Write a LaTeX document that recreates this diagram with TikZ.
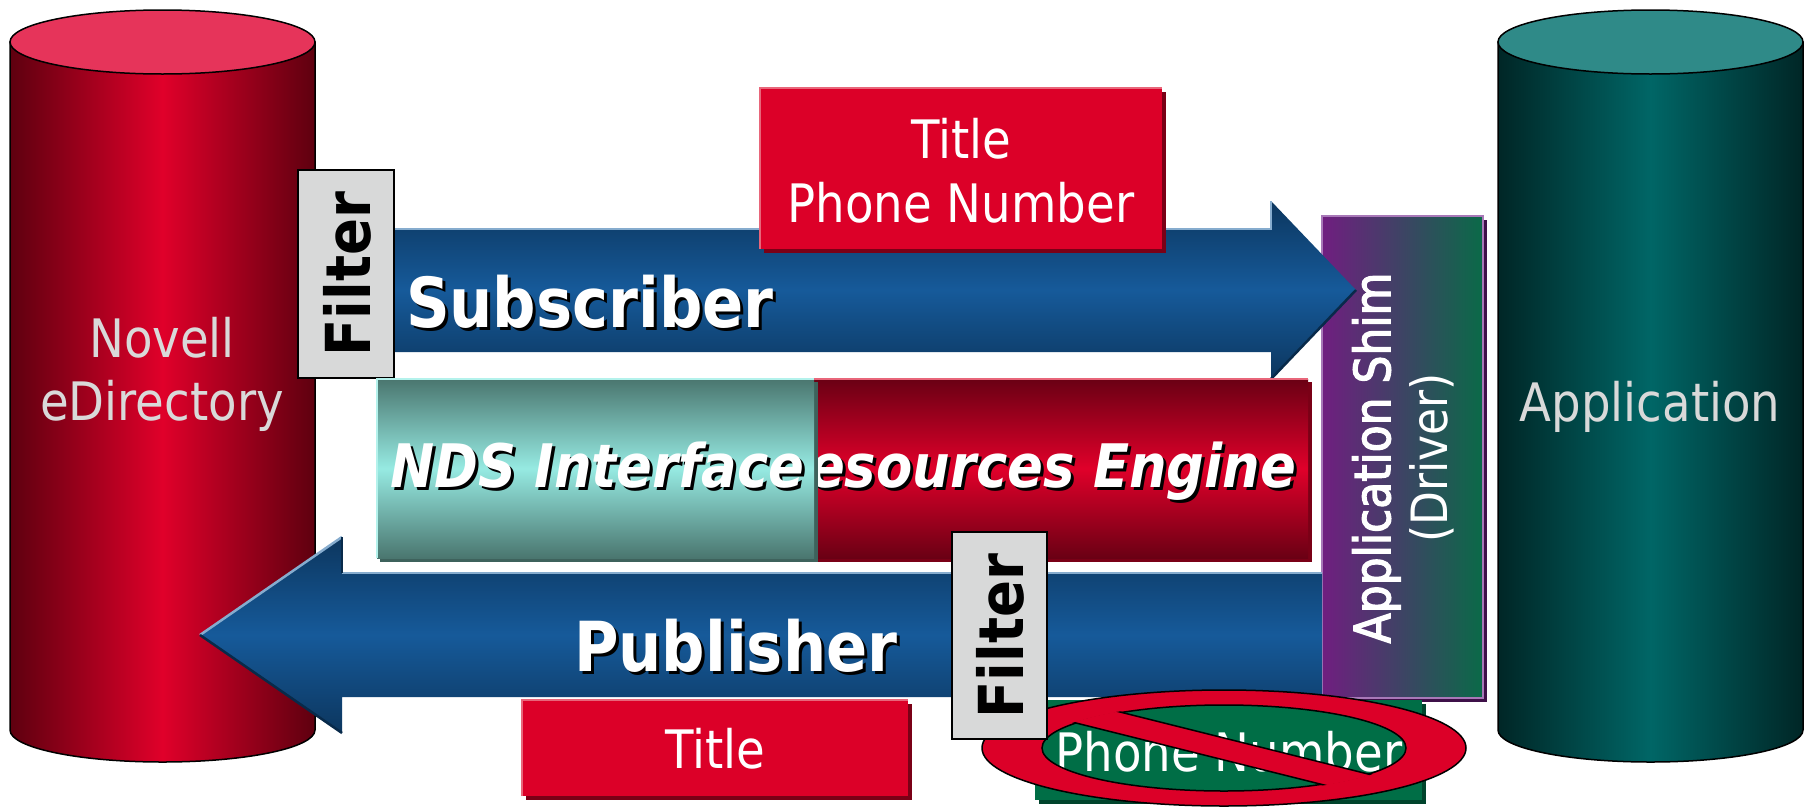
\documentclass[tikz,border=0pt]{standalone}
\usepackage{fontspec}
\newfontfamily\tah{DejaVu Sans}[FakeStretch=0.88]
\newfontfamily\tahsemi{DejaVu Sans}[FakeStretch=0.88, FakeBold=2.5]
\definecolor{cRedEdge}{HTML}{5E000F}
\definecolor{cRedMid}{HTML}{E0002A}
\definecolor{cRedTop}{HTML}{E6345A}
\definecolor{cTealEdge}{HTML}{002626}
\definecolor{cTealMid}{HTML}{006666}
\definecolor{cTealTop}{HTML}{2F8A88}
\definecolor{cArrDark}{HTML}{0C365E}
\definecolor{cArrMid}{HTML}{165A9A}
\definecolor{cArrHi}{HTML}{86ACCE}
\definecolor{cArrSh}{HTML}{082A4A}
\definecolor{cBoxRed}{HTML}{DC0028}
\definecolor{cBoxRedHi}{HTML}{E8667A}
\definecolor{cBoxRedSh}{HTML}{7A0016}
\definecolor{cNdsEdge}{HTML}{4A766F}
\definecolor{cNdsMid}{HTML}{96EAE2}
\definecolor{cNdsHi}{HTML}{B4F2EC}
\definecolor{cNdsSh}{HTML}{3E625C}
\definecolor{cResEdge}{HTML}{6A0014}
\definecolor{cResMid}{HTML}{E0002A}
\definecolor{cShimL}{HTML}{701E80}
\definecolor{cShimR}{HTML}{0A6A48}
\definecolor{cShimHi}{HTML}{A878B8}
\definecolor{cShimSh}{HTML}{3E1048}
\definecolor{cGreen}{HTML}{006E46}
\definecolor{cGreenSh}{HTML}{00442C}
\definecolor{cFilter}{HTML}{D8D9D9}
\definecolor{cGrayTxt}{HTML}{D9D9D9}
\tikzset{
  txt/.style={inner sep=0pt, outer sep=0pt},
  regtxt/.style={txt, font=\tah\fontsize{53}{60}\selectfont},
  bigtxt/.style={txt, font=\tah\bfseries\fontsize{69}{69}\selectfont},
  boxtxt/.style={txt, font=\tah\bfseries\itshape\fontsize{60}{60}\selectfont},
  filtertxt/.style={txt, rotate=90, font=\tah\bfseries\fontsize{62}{62}\selectfont},
  filterbox/.style={fill=cFilter, draw=black, line width=1.5pt},
  cylred/.style={draw=black, line width=1.5pt, left color=cRedEdge, right color=cRedEdge, middle color=cRedMid},
  cylteal/.style={draw=black, line width=1.5pt, left color=cTealEdge, right color=cTealEdge, middle color=cTealMid},
  arrowbody/.style={top color=cArrDark, bottom color=cArrDark, middle color=cArrMid},
  arrowhi/.style={draw=cArrHi, line width=2.5pt},
  arrowsh/.style={draw=cArrSh, line width=2.5pt},
  redbox/.style={fill=cBoxRed},
  redsh/.style={fill=cBoxRedSh},
  redhi/.style={draw=cBoxRedHi, line width=2.5pt},
}
\begin{document}
\begin{tikzpicture}[x=1pt,y=-1pt]
\fill[white] (0,0) rectangle (1810,809);
\useasboundingbox (0,0) rectangle (1810,809);

% ---------- left cylinder
\path[cylred] (10,42) -- (10,730) arc[start angle=180, end angle=0, x radius=152.5, y radius=32] -- (315,42) -- cycle;
\draw[fill=cRedTop, line width=1.5pt] (162.5,42) ellipse[x radius=152.5, y radius=32];
\node[regtxt, text=cGrayTxt, anchor=base] (nov1) at (162,357) {Novell};
\node[regtxt, text=cGrayTxt, anchor=base] (nov2) at (162,420) {eDirectory};

% ---------- right cylinder
\path[cylteal] (1498,42) -- (1498,730) arc[start angle=180, end angle=0, x radius=152.5, y radius=32] -- (1803,42) -- cycle;
\draw[fill=cTealTop, line width=1.5pt] (1650.5,42) ellipse[x radius=152.5, y radius=32];
\node[regtxt, text=cGrayTxt, anchor=base] (app) at (1650,421) {Application};

% ---------- application shim
\fill[cShimSh] (1326,220) rectangle (1487,702);
\path[left color=cShimL, right color=cShimR, draw=cShimHi, line width=1.5pt] (1322,216) rectangle (1483,698);
\node[txt, rotate=90, align=center, text=white, font=\tah\fontsize{50}{57}\selectfont] (shim) at (1403,458)
  {{\tahsemi\fontsize{50}{57}\selectfont Application Shim}\\(Driver)};

% ---------- subscriber arrow
\path[arrowbody] (390,229) -- (1271,229) -- (1271,201) -- (1356,290) -- (1271,379) -- (1271,352) -- (390,352) -- cycle;
\draw[arrowhi] (390,229) -- (1271,229) -- (1271,201);
\draw[arrowsh] (1356,290) -- (1271,379);
\node[bigtxt, text=black, anchor=base west] (subsh) at (409,330) {Subscriber};
\node[bigtxt, text=white, anchor=base west] (sub) at (406,327) {Subscriber};

% ---------- filter 1
\path[filterbox] (298,170) rectangle (394,378);
\node[filtertxt] (f1) at (347,274) {Filter};

% ---------- title / phone box (top)
\path[redsh] (764,92) rectangle (1166,253);
\path[redbox] (760,88) rectangle (1162,249);
\draw[redhi] (760,249) -- (760,88) -- (1162,88);
\node[regtxt, text=white, anchor=base] (t1) at (961,158) {Title};
\node[regtxt, text=white, anchor=base] (t2) at (961,222) {Phone Number};

% ---------- resources engine box
\fill[cBoxRedSh] (817,382) rectangle (1312,562);
\path[top color=cResEdge, bottom color=cResEdge, middle color=cResMid] (814,379) rectangle (1308,558);
\draw[redhi] (814,379) -- (1308,379);
\begin{scope}
\clip (814,379) rectangle (1308,558);
\node[boxtxt, text=black, anchor=base west] (ressh) at (812,490) {esources Engine};
\node[boxtxt, text=white, anchor=base west] (res) at (809,487) {esources Engine};
\end{scope}

% ---------- NDS interface box
\fill[cNdsSh] (380,382) rectangle (818,562);
\path[top color=cNdsEdge, bottom color=cNdsEdge, middle color=cNdsMid] (377,379) rectangle (814,558);
\draw[draw=cNdsHi, line width=2.5pt] (377,558) -- (377,379) -- (814,379);
\node[boxtxt, text=black, anchor=base west] (ndssh) at (393,490) {NDS Interface};
\node[boxtxt, text=white, anchor=base west] (nds) at (390,487) {NDS Interface};

% ---------- publisher arrow
\path[arrowbody] (1322,573) -- (342,573) -- (342,537) -- (200,635) -- (342,733) -- (342,697) -- (1322,697) -- cycle;
\draw[arrowhi] (200,635) -- (342,537);
\draw[arrowhi] (342,573) -- (1322,573);
\draw[arrowsh] (342,537) -- (342,573);
\draw[arrowsh] (200,635) -- (342,733);
\node[bigtxt, text=black, anchor=base west] (pubsh) at (577,674) {Publisher};
\node[bigtxt, text=white, anchor=base west] (pub) at (574,671) {Publisher};

% ---------- bottom title box
\path[redsh] (526,704) rectangle (912,800);
\path[redbox] (522,700) rectangle (908,796);
\draw[redhi] (522,796) -- (522,700) -- (908,700);
\node[regtxt, text=white, anchor=base] (bt) at (715,768) {Title};

% ---------- green phone number box
\fill[cGreenSh] (1039,704) rectangle (1426,804);
\fill[cGreen] (1035,700) rectangle (1422,800);
\node[regtxt, text=white, anchor=base] (pn) at (1229,771) {Phone Number};

% ---------- prohibition sign
\fill[cBoxRed, even odd rule] (1224,748) ellipse[x radius=242, y radius=58]
                              (1224,748) ellipse[x radius=182, y radius=43];
\draw[line width=1.5pt] (1224,748) ellipse[x radius=242, y radius=58];
\draw[line width=1.5pt] (1224,748) ellipse[x radius=182, y radius=43];
\begin{scope}
\clip (1224,748) ellipse[x radius=183.5, y radius=44.5];
\path[fill=cBoxRed, draw=black, line width=1.5pt]
  (1000,682) -- (1450,794.5) -- (1450,816.5) -- (1000,704) -- cycle;
\end{scope}

% ---------- filter 2
\path[filterbox] (952,532) rectangle (1047,739);
\node[filtertxt] (f2) at (1000,636) {Filter};
\end{tikzpicture}
\end{document}
